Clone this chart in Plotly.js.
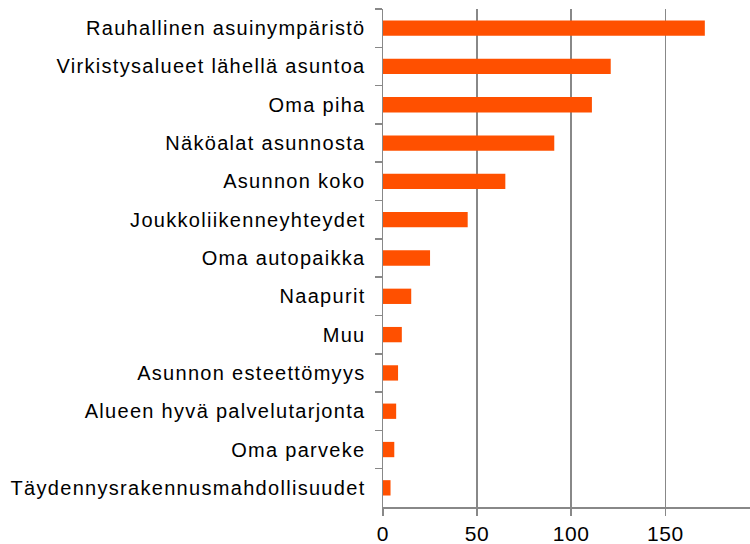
<!DOCTYPE html>
<html>
<head>
<meta charset="utf-8">
<script src="https://cdn.plot.ly/plotly-3.0.1.min.js"></script>
<style>
html,body{margin:0;padding:0;background:#fff;}
#chart{width:750px;height:544px;}
.ytick text{letter-spacing:1.3px;}
.xtick text{letter-spacing:0.6px;}
</style>
</head>
<body>
<div id="chart"></div>
<script>
const categories = [
  "Rauhallinen asuinympäristö",
  "Virkistysalueet lähellä asuntoa",
  "Oma piha",
  "Näköalat asunnosta",
  "Asunnon koko",
  "Joukkoliikenneyhteydet",
  "Oma autopaikka",
  "Naapurit",
  "Muu",
  "Asunnon esteettömyys",
  "Alueen hyvä palvelutarjonta",
  "Oma parveke",
  "Täydennysrakennusmahdollisuudet"
];
const values = [171, 121, 111, 91, 65, 45, 25, 15, 10, 8, 7, 6, 4];
const xTicks = [0, 50, 100, 150];

Plotly.newPlot("chart", [{
  type: "bar",
  orientation: "h",
  y: categories,
  x: values,
  marker: {color: "#FF5000", line: {width: 0}},
  hoverinfo: "x+y"
}], {
  width: 750,
  height: 544,
  margin: {l: 383, r: 0, t: 9, b: 37, pad: 0},
  paper_bgcolor: "#ffffff",
  plot_bgcolor: "#ffffff",
  bargap: 0.6,
  showlegend: false,
  font: {family: "Liberation Sans, Arial, sans-serif", size: 20, color: "#000"},
  xaxis: {
    range: [0, 195],
    tickvals: xTicks,
    ticktext: xTicks.map(String),
    showgrid: true,
    gridcolor: "#888888",
    gridwidth: 1.5,
    zeroline: false,
    showline: true,
    linecolor: "#888888",
    linewidth: 1.5,
    ticks: "outside",
    ticklen: 7,
    tickcolor: "#888888",
    tickwidth: 1.5,
    tickfont: {size: 21},
    fixedrange: true
  },
  yaxis: {
    autorange: "reversed",
    showgrid: false,
    zeroline: false,
    showline: true,
    linecolor: "#888888",
    linewidth: 1.5,
    ticks: "outside",
    ticklen: 7,
    tickcolor: "#888888",
    tickwidth: 1.5,
    tickson: "boundaries",
    ticklabelstandoff: 12,
    tickfont: {size: 20},
    fixedrange: true
  }
}, {displayModeBar: false, staticPlot: true});
</script>
</body>
</html>
